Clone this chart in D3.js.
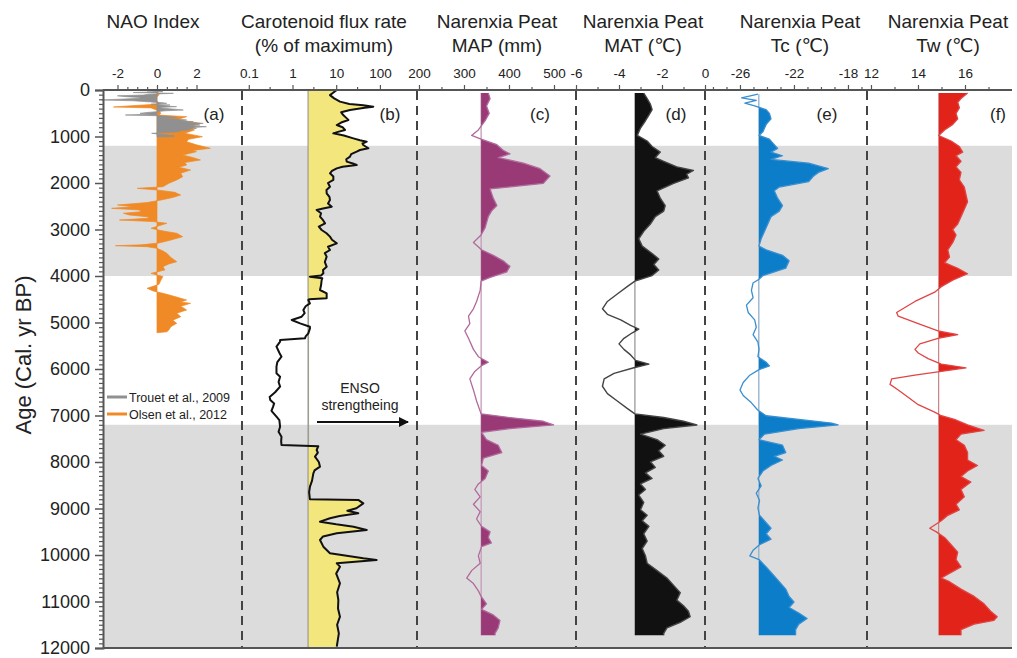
<!DOCTYPE html>
<html><head><meta charset="utf-8">
<script src="https://cdn.jsdelivr.net/npm/d3@7"></script>
<style>
body{margin:0;background:#fff}
svg{display:block}
text{font-family:"Liberation Sans",Arial,"DejaVu Sans",sans-serif;fill:#222}
</style>
</head><body>
<svg id="chart" width="1017" height="658"></svg>
<script>
// ---------------- DATA ----------------
const ageTicks = d3.range(0, 12001, 1000);
const bands = [[1200, 4000], [7200, 12000]];

const naoTicks = [-2, 0, 2];
const carotTicks = [0.1, 1, 10, 100];
const mapTicks = [200, 300, 400, 500];
const matTicks = [-6, -4, -2, 0];
const tcTicks = [-26, -22, -18];
const twTicks = [12, 14, 16];

// NAO index (Trouet et al., 2009) [age, value]
const trouet = [[0,0],[20,-0.5],[36,0.3],[55,-1.2],[72,0.83],[90,-0.4],[108,-0.69],[125,-2.0],[143,-1.6],[160,-0.9],[179,-0.86],[198,-1.9],[215,-2.8],[232,-1.2],[251,-0.52],[270,0.2],[287,0.49],[305,-0.3],[323,0.66],[340,0.2],[358,0.99],[376,0.1],[394,0.32],[412,0.9],[430,1.33],[448,0.4],[466,-0.02],[484,-0.5],[502,-0.86],[520,-0.3],[538,-1.6],[555,0.2],[573,0.66],[591,1.0],[609,0.32],[627,1.1],[645,1.5],[663,1.2],[681,1.84],[699,1.5],[717,2.34],[735,1.9],[753,2.17],[771,1.6],[789,2.5],[806,1.8],[824,2.0],[842,1.5],[860,1.66],[878,1.0],[896,1.16],[914,0.5],[932,-0.27],[950,0.2],[968,0.49],[986,0.9],[1004,0.83],[1010,0]];
// NAO index (Olsen et al., 2012)
const olsen = [[0,0],[100,0.1],[200,-0.1],[300,0.15],[345,-1.5],[365,-2.2],[385,-0.3],[450,0.1],[500,0.2],[540,0.1],[573,1.5],[640,1.0],[717,2.2],[790,1.6],[860,1.9],[930,1.4],[1004,2.3],[1060,1.6],[1111,1.5],[1180,2.0],[1254,2.7],[1300,1.8],[1326,2.0],[1400,1.3],[1450,1.8],[1505,2.2],[1560,1.4],[1613,1.5],[1660,1.1],[1720,1.7],[1790,1.2],[1864,1.3],[1935,1.0],[2007,0.6],[2080,0.3],[2115,-1.0],[2150,0],[2200,0.9],[2258,1.2],[2310,0.8],[2366,0.2],[2420,-0.5],[2473,-2.0],[2510,-1.2],[2545,-2.3],[2580,-0.9],[2617,-0.8],[2650,-1.7],[2688,-1.4],[2730,-0.4],[2760,-0.5],[2796,-1.9],[2830,-0.2],[2867,0.5],[2920,0.1],[2975,-0.3],[3030,0.3],[3082,1.0],[3154,1.3],[3226,0.7],[3290,0.1],[3330,-0.8],[3348,-2.1],[3370,-0.5],[3405,0],[3460,0.3],[3513,0.5],[3600,0.7],[3692,1.0],[3740,0.6],[3799,0.3],[3870,0.4],[3943,-0.3],[4010,0.3],[4086,0.2],[4180,0.1],[4265,-0.5],[4320,-0.2],[4373,0.3],[4440,0.9],[4516,1.5],[4560,1.2],[4588,1.7],[4650,1.2],[4731,1.5],[4800,1.0],[4875,1.2],[4950,0.8],[5018,1.0],[5090,0.7],[5161,0.6],[5200,0.5],[5220,0]];

// Carotenoid flux rate (% of maximum)
const carotBase = 2.3;
const carot = [[0,10.3],[60,8.5],[110,7.2],[180,9],[250,12.2],[300,20],[330,41.7],[358,70.6],[380,45],[430,20.7],[480,13],[538,14.5],[600,17],[645,19],[700,13],[753,10.3],[800,14],[860,15.9],[900,11],[932,8.6],[980,15],[1040,24.7],[1080,35],[1111,49.9],[1150,40],[1183,41.7],[1220,48],[1254,54.5],[1290,35],[1326,29.4],[1380,22],[1434,20.7],[1490,17],[1541,17.4],[1580,24],[1613,29.4],[1650,14],[1685,10.3],[1740,8],[1792,7.2],[1860,8.6],[1935,8.6],[2000,6.5],[2079,7.2],[2150,6],[2222,6.05],[2300,7],[2366,7.2],[2440,6.5],[2509,7.9],[2550,5],[2581,3.57],[2650,4.5],[2724,4.26],[2800,5],[2867,5.55],[2940,4],[3011,4.65],[3080,6],[3154,7.2],[3220,8],[3297,10.3],[3370,6.5],[3441,7.2],[3510,5.5],[3584,6.05],[3700,5.5],[3799,6.05],[3870,5],[3943,5.08],[3990,4.5],[4014,2.5],[4050,4.8],[4086,4.65],[4200,4.5],[4301,4.26],[4373,6.05],[4480,6.05],[4500,2.4],[4516,2.3],[4588,2.5],[4650,2.0],[4731,1.77],[4800,1.9],[4875,1.62],[4946,0.96],[5018,1.49],[5090,2.5],[5125,2.51],[5233,2.3],[5300,2.0],[5340,1.93],[5376,0.52],[5412,0.52],[5520,0.43],[5650,0.5],[5735,0.56],[5850,0.45],[5950,0.43],[6093,0.43],[6165,0.52],[6280,0.48],[6380,0.52],[6500,0.4],[6600,0.3],[6667,0.31],[6740,0.38],[6810,0.36],[6900,0.33],[7025,0.43],[7100,0.5],[7240,0.52],[7350,0.48],[7455,0.56],[7550,0.55],[7634,0.56],[7660,3.9],[7742,3.57],[7800,3.8],[7885,3.27],[8000,4],[8100,4.26],[8180,3.2],[8244,3.0],[8400,2.8],[8530,2.51],[8650,2.4],[8800,2.5],[8815,32],[8889,41.7],[8996,29],[9050,18],[9104,32],[9160,12],[9211,7.2],[9283,4.26],[9340,10],[9391,25],[9462,49.9],[9534,10.3],[9600,5],[9677,4.26],[9821,5.08],[9964,7.2],[10072,41.7],[10108,84],[10179,10.3],[10251,12.2],[10400,10],[10609,12.2],[10800,10.5],[10968,11.2],[11150,11],[11326,12.2],[11500,10.5],[11685,11.5],[11971,10.3]];

// Narenxia Peat MAP (mm)
const mapBase = 338;
const mapData = [[66,354],[185,358],[344,350],[502,356],[661,347],[859,332],[978,317],[1057,338],[1176,373],[1295,387],[1374,402],[1454,376],[1573,432],[1692,469],[1850,491],[2009,476],[2128,358],[2326,365],[2485,373],[2604,361],[2723,354],[2961,347],[3119,338],[3278,321],[3436,339],[3555,365],[3674,387],[3793,402],[3912,395],[4031,358],[4110,338],[4309,336],[4547,328],[4705,321],[4864,310],[5023,313],[5181,302],[5340,310],[5578,321],[5736,332],[5855,354],[5934,338],[6053,324],[6212,313],[6450,321],[6688,328],[6965,338],[7044,402],[7124,476],[7203,499],[7282,402],[7361,339],[7520,350],[7639,376],[7798,384],[7917,343],[8075,339],[8194,354],[8353,347],[8472,332],[8591,324],[8750,336],[8908,321],[9067,336],[9226,328],[9384,339],[9503,358],[9622,354],[9741,361],[9820,339],[10018,332],[10177,336],[10336,317],[10495,306],[10614,321],[10772,332],[10891,338],[11050,350],[11169,339],[11288,365],[11407,380],[11566,376],[11685,369],[11724,369]];

// Narenxia Peat MAT (°C)
const matBase = -3.26;
const matData = [[66,-2.85],[185,-2.69],[304,-2.54],[423,-2.46],[542,-2.61],[661,-2.77],[819,-3.0],[978,-3.15],[1097,-2.69],[1216,-2.46],[1335,-2.08],[1454,-2.31],[1533,-1.92],[1652,-1.31],[1731,-0.54],[1811,-0.85],[1890,-0.77],[2009,-1.46],[2167,-2.23],[2326,-2.08],[2485,-1.85],[2604,-1.92],[2723,-2.31],[2882,-2.54],[3040,-2.85],[3199,-3.08],[3357,-2.92],[3516,-2.46],[3635,-2.15],[3753,-2.38],[3872,-2.15],[3991,-2.46],[4110,-3.26],[4229,-3.62],[4388,-4.08],[4547,-4.54],[4705,-4.77],[4824,-4.54],[4943,-3.92],[5062,-3.46],[5142,-3.08],[5221,-3.38],[5340,-3.77],[5459,-4.0],[5578,-3.77],[5697,-3.46],[5815,-3.23],[5895,-2.61],[5974,-3.31],[6093,-4.23],[6212,-4.69],[6371,-4.77],[6529,-4.54],[6688,-4.08],[6847,-3.62],[6965,-3.26],[7044,-1.92],[7124,-1.0],[7203,-0.38],[7282,-1.92],[7401,-3.0],[7520,-2.23],[7639,-1.85],[7758,-2.15],[7877,-1.92],[7996,-2.54],[8115,-2.31],[8234,-2.77],[8353,-2.46],[8472,-3.0],[8591,-2.77],[8710,-3.08],[8869,-2.85],[9028,-3.0],[9146,-2.69],[9265,-2.92],[9384,-2.61],[9543,-2.85],[9701,-2.69],[9860,-2.92],[10018,-2.77],[10177,-2.69],[10336,-2.23],[10495,-1.77],[10653,-1.46],[10812,-1.15],[10971,-1.31],[11090,-1.0],[11209,-0.77],[11328,-0.69],[11447,-1.15],[11566,-1.77],[11685,-1.92],[11724,-1.92]];

// Narenxia Peat Tc (°C)
const tcBase = -24.6;
const tcData = [[90,-24.67],[169,-25.88],[225,-24.79],[280,-25.64],[344,-24.91],[423,-24.06],[502,-23.82],[621,-23.70],[740,-24.06],[899,-24.30],[978,-24.59],[1057,-23.82],[1137,-23.58],[1256,-23.21],[1335,-23.70],[1414,-22.85],[1493,-23.70],[1573,-20.91],[1692,-19.46],[1771,-20.18],[1850,-20.55],[1969,-20.91],[2088,-23.09],[2167,-23.46],[2326,-23.21],[2485,-22.85],[2604,-23.09],[2723,-23.70],[2882,-23.94],[3040,-24.18],[3199,-24.43],[3357,-24.59],[3436,-24.06],[3555,-22.85],[3674,-22.36],[3833,-22.61],[3991,-24.30],[4071,-24.59],[4150,-25.03],[4309,-25.15],[4467,-25.03],[4626,-25.52],[4785,-25.39],[4943,-24.91],[5102,-24.79],[5261,-25.03],[5420,-24.67],[5578,-24.59],[5736,-24.67],[5855,-24.06],[5934,-23.82],[6014,-24.59],[6133,-25.27],[6291,-25.76],[6450,-26.0],[6569,-25.76],[6727,-25.15],[6886,-24.67],[7005,-24.06],[7084,-21.64],[7163,-19.21],[7203,-18.73],[7282,-21.64],[7401,-24.18],[7520,-24.59],[7639,-22.85],[7798,-22.61],[7877,-23.46],[7957,-22.85],[8075,-23.70],[8194,-24.30],[8353,-24.67],[8512,-24.43],[8670,-24.79],[8829,-24.55],[8988,-24.67],[9146,-24.55],[9305,-24.06],[9424,-23.70],[9543,-24.06],[9662,-23.70],[9780,-24.55],[9900,-25.03],[10018,-25.27],[10098,-24.59],[10256,-24.06],[10415,-23.58],[10574,-23.09],[10733,-22.61],[10891,-22.36],[11010,-22.0],[11129,-22.36],[11248,-21.64],[11367,-21.03],[11486,-21.64],[11605,-21.88],[11685,-21.88],[11724,-21.88]];

// Narenxia Peat Tw (°C)
const twBase = 14.88;
const twData = [[66,16.11],[185,15.83],[264,15.69],[383,15.76],[502,15.62],[621,15.69],[740,15.48],[859,15.13],[978,14.88],[1097,15.41],[1216,15.76],[1335,15.90],[1414,15.62],[1533,15.83],[1652,15.62],[1771,15.83],[1930,15.76],[2088,15.97],[2247,16.04],[2405,16.11],[2564,15.97],[2723,15.83],[2882,15.69],[3001,15.48],[3119,15.62],[3278,15.48],[3436,15.27],[3595,15.34],[3714,15.13],[3833,15.69],[3952,16.11],[4071,15.55],[4229,14.99],[4348,14.71],[4547,13.87],[4785,13.09],[4864,13.16],[5023,14.01],[5181,14.85],[5261,15.69],[5340,14.85],[5459,14.08],[5578,13.87],[5657,14.01],[5776,14.43],[5895,14.99],[5974,16.04],[6053,14.99],[6133,13.87],[6212,12.88],[6331,12.81],[6450,13.16],[6609,13.58],[6767,14.01],[6926,14.71],[7005,14.99],[7084,15.55],[7203,16.11],[7322,16.81],[7401,15.83],[7520,15.62],[7639,15.97],[7798,16.11],[7957,16.11],[8075,16.53],[8194,16.11],[8313,15.83],[8432,16.25],[8591,15.83],[8750,15.97],[8908,15.62],[9028,15.76],[9146,15.27],[9265,14.99],[9424,14.50],[9503,14.78],[9622,15.13],[9780,15.41],[9939,15.69],[10098,15.62],[10256,15.83],[10375,15.41],[10495,14.99],[10574,15.34],[10733,15.83],[10891,16.39],[11050,16.81],[11209,17.09],[11328,17.37],[11407,17.23],[11486,16.39],[11605,15.83],[11685,15.83],[11724,15.83]];

// ---------------- LAYOUT ----------------
const svg = d3.select('#chart');
const yTop = 90, yBot = 648, xL = 103, xR = 1012;
const y = d3.scaleLinear().domain([0, 12000]).range([yTop, yBot]);

const xA = d3.scaleLinear().domain([-2.734, 4.304]).range([103, 242]);
const xB = d3.scaleLog().domain([0.0699, 706]).range([242, 417]);
const xC = d3.scaleLinear().domain([195.6, 548.9]).range([417, 576]);
const xD = d3.scaleLinear().domain([-6, 0]).range([576, 705]);
const xE = d3.scaleLinear().domain([-28.59, -16.59]).range([705, 867]);
const xF = d3.scaleLinear().domain([11.83, 18.0]).range([867, 1012]);

const defs = svg.append('defs');

// gray bands
svg.append('g').selectAll('rect').data(bands).join('rect')
  .attr('x', xL).attr('width', xR - xL)
  .attr('y', d => y(d[0])).attr('height', d => y(d[1]) - y(d[0]))
  .attr('fill', '#dcdcdc');

// ---- panel a: NAO
const areaA = d3.area().y(d => y(d[0])).x0(xA(0)).x1(d => xA(d[1]));
svg.append('path').datum(olsen).attr('d', areaA)
  .attr('fill', '#f08a26').attr('stroke', '#f08a26').attr('stroke-width', 0.7);
svg.append('path').datum(trouet).attr('d', areaA)
  .attr('fill', '#909090').attr('stroke', '#909090').attr('stroke-width', 0.7);

// ---- generic filled panel
function clipRight(id, x0, x1) {
  defs.append('clipPath').attr('id', id).append('rect')
    .attr('x', x0).attr('y', 0).attr('width', x1 - x0).attr('height', 658);
  return 'url(#' + id + ')';
}

function filledPanel(data, xs, base, o) {
  const g = svg.append('g');
  const xb = xs(base);
  g.append('line').attr('x1', xb).attr('x2', xb)
    .attr('y1', o.fullBase ? yTop : y(data[0][0]))
    .attr('y2', o.fullBase ? yBot : y(data[data.length - 1][0]))
    .attr('stroke', o.baseColor).attr('stroke-width', o.baseWidth || 1.3);
  const area = d3.area().y(d => y(d[0])).x0(xb).x1(d => xs(d[1]));
  g.append('path').datum(data).attr('d', area)
    .attr('clip-path', clipRight('clip' + o.id, xb, xs.range()[1]))
    .attr('fill', o.fill);
  const line = d3.line().y(d => y(d[0])).x(d => xs(d[1]));
  g.append('path').datum(data).attr('d', line)
    .attr('fill', 'none').attr('stroke', o.line).attr('stroke-width', o.lineWidth)
    .attr('stroke-linejoin', 'round');
}

filledPanel(carot, xB, carotBase, {id:'b', fill:'#f3e67c', line:'#111', lineWidth:2, baseColor:'#8a8a8a', fullBase:true, baseWidth:1.5});
filledPanel(mapData, xC, mapBase, {id:'c', fill:'#993a76', line:'#b06a9c', lineWidth:1.3, baseColor:'#c9a3bd'});
filledPanel(matData, xD, matBase, {id:'d', fill:'#111', line:'#444', lineWidth:1.4, baseColor:'#9a9a9a'});
filledPanel(tcData, xE, tcBase, {id:'e', fill:'#0c7dc9', line:'#3a8fd0', lineWidth:1.3, baseColor:'#9fb5c8'});
filledPanel(twData, xF, twBase, {id:'f', fill:'#e2231a', line:'#e04545', lineWidth:1.3, baseColor:'#c9a0a0'});

// dashed separators
svg.append('g').selectAll('line').data([242, 417, 576, 705, 867]).join('line')
  .attr('x1', d => d).attr('x2', d => d).attr('y1', yTop + 1).attr('y2', yBot)
  .attr('stroke', '#444').attr('stroke-width', 2).attr('stroke-dasharray', '9,6');

// ---- top axes
function topAxis(xs, major, minor, fmt) {
  const g = svg.append('g').attr('transform', `translate(0,${yTop})`);
  g.call(d3.axisTop(xs).tickValues(major).tickSize(5).tickPadding(7).tickFormat(fmt || (d => d)));
  g.select('.domain').remove();
  g.selectAll('.tick line').attr('stroke', '#555').attr('stroke-width', 1.2);
  g.selectAll('text').attr('font-size', 13.5).attr('fill', '#222')
    .style('font-family', '"Liberation Sans",Arial,sans-serif');
  const m = svg.append('g').attr('transform', `translate(0,${yTop})`);
  m.call(d3.axisTop(xs).tickValues(minor).tickSize(3).tickFormat(''));
  m.select('.domain').remove();
  m.selectAll('.tick line').attr('stroke', '#555').attr('stroke-width', 1.2);
}
topAxis(xA, naoTicks, [-1.5, -1, -0.5, 0.5, 1, 1.5]);
topAxis(xB, carotTicks, [0.3, 3, 30], d => String(d));
topAxis(xC, mapTicks, [250, 350, 450]);
topAxis(xD, matTicks, [-5, -3, -1]);
topAxis(xE, tcTicks, [-28, -27, -25, -24, -23, -21, -20, -19, -17]);
topAxis(xF, twTicks, [13, 15, 17]);

// frame lines
svg.append('line').attr('x1', xL).attr('x2', xR).attr('y1', yTop).attr('y2', yTop)
  .attr('stroke', '#555').attr('stroke-width', 2);
svg.append('line').attr('x1', xL).attr('x2', xR).attr('y1', yBot).attr('y2', yBot)
  .attr('stroke', '#555').attr('stroke-width', 2);

// ---- left axis
const la = svg.append('g').attr('transform', `translate(${xL},0)`);
la.call(d3.axisLeft(y).tickValues(ageTicks).tickSize(8).tickPadding(5).tickFormat(d3.format('d')));
la.select('.domain').attr('stroke', '#555').attr('stroke-width', 2);
la.selectAll('.tick line').attr('stroke', '#555').attr('stroke-width', 1.5);
la.selectAll('text').attr('font-size', 18).attr('fill', '#222')
  .style('font-family', '"Liberation Sans",Arial,sans-serif');
const lm = svg.append('g').attr('transform', `translate(${xL},0)`);
lm.call(d3.axisLeft(y).tickValues(d3.range(0, 12001, 100).filter(v => v % 1000)).tickSize(4).tickFormat(''));
lm.select('.domain').remove();
lm.selectAll('.tick line').attr('stroke', '#555').attr('stroke-width', 1.2);

// y title
svg.append('text').attr('transform', 'translate(31,355) rotate(-90)')
  .attr('text-anchor', 'middle').attr('font-size', 22).text('Age (Cal. yr BP)');

// panel titles
const titles = [
  [153, ['NAO Index']],
  [324, ['Carotenoid flux rate', '(% of maximum)']],
  [497, ['Narenxia Peat', 'MAP (mm)']],
  [643, ['Narenxia Peat', 'MAT (\u2103)']],
  [800, ['Narenxia Peat', 'Tc (\u2103)']],
  [948, ['Narenxia Peat', 'Tw (\u2103)']]
];
titles.forEach(([x, lines]) => {
  lines.forEach((t, i) => {
    svg.append('text').attr('x', x).attr('y', 28 + i * 24)
      .attr('text-anchor', 'middle').attr('font-size', 19).text(t);
  });
});

// panel letters
[[214, '(a)'], [390, '(b)'], [540, '(c)'], [676, '(d)'], [827, '(e)'], [998, '(f)']].forEach(([x, t]) => {
  svg.append('text').attr('x', x).attr('y', 120).attr('text-anchor', 'middle')
    .attr('font-size', 17).text(t);
});

// legend
const leg = [['#909090', 'Trouet et al., 2009', 397], ['#f08a26', 'Olsen et al., 2012', 414]];
leg.forEach(([c, t, yy]) => {
  svg.append('line').attr('x1', 107).attr('x2', 127).attr('y1', yy).attr('y2', yy)
    .attr('stroke', c).attr('stroke-width', 3);
  svg.append('text').attr('x', 129).attr('y', yy + 4.5).attr('font-size', 12.5).text(t);
});

// ENSO annotation
svg.append('text').attr('x', 360).attr('y', 393).attr('text-anchor', 'middle').attr('font-size', 14).text('ENSO');
svg.append('text').attr('x', 360).attr('y', 410).attr('text-anchor', 'middle').attr('font-size', 14).text('strengtheing');
defs.append('marker').attr('id', 'arr').attr('viewBox', '0 0 10 10').attr('refX', 9).attr('refY', 5)
  .attr('markerWidth', 5).attr('markerHeight', 5).attr('orient', 'auto')
  .append('path').attr('d', 'M0,0 L10,5 L0,10 z').attr('fill', '#111');
svg.append('line').attr('x1', 317).attr('x2', 408).attr('y1', 422).attr('y2', 422)
  .attr('stroke', '#111').attr('stroke-width', 2).attr('marker-end', 'url(#arr)');
</script>
</body></html>
